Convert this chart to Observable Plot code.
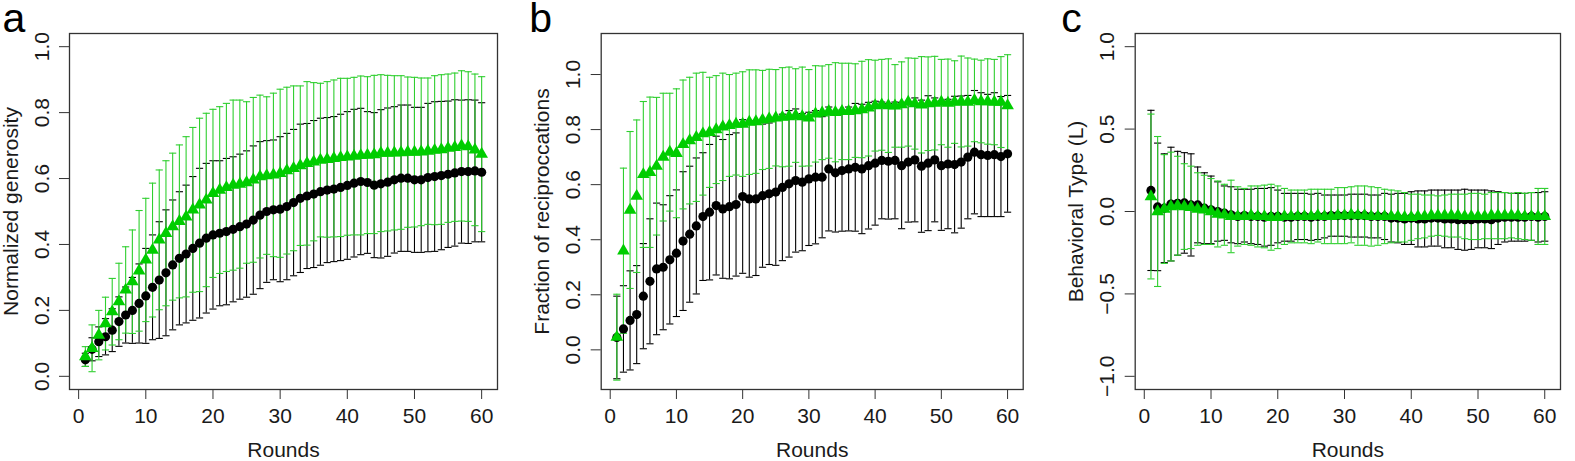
<!DOCTYPE html>
<html><head><meta charset="utf-8">
<script src="https://cdn.jsdelivr.net/npm/d3@7"></script>
<script src="https://cdn.jsdelivr.net/npm/@observablehq/plot@0.6"></script>
<style>
html,body{margin:0;padding:0;background:#fff;}
#wrap{position:relative;width:1575px;height:461px;overflow:hidden;background:#fff;}
#wrap > svg{position:absolute;top:0;}
</style></head><body><div id="wrap"></div>
<script>
const rounds = [1,2,3,4,5,6,7,8,9,10,11,12,13,14,15,16,17,18,19,20,21,22,23,24,25,26,27,28,29,30,
  31,32,33,34,35,36,37,38,39,40,41,42,43,44,45,46,47,48,49,50,51,52,53,54,55,56,57,58,59,60];
const xTicks = [0,10,20,30,40,50,60];

// Panel a: Normalized generosity (mean and half error bar)
const aBlackMean = [0.05,0.082,0.105,0.12,0.14,0.166,0.186,0.2,0.221,0.244,
 0.27,0.292,0.314,0.338,0.358,0.371,0.388,0.404,0.419,0.429,
 0.434,0.439,0.446,0.454,0.462,0.474,0.489,0.5,0.505,0.507,
 0.515,0.527,0.54,0.547,0.553,0.56,0.565,0.568,0.573,0.579,
 0.586,0.591,0.588,0.58,0.584,0.589,0.596,0.601,0.601,0.596,
 0.596,0.603,0.606,0.609,0.613,0.617,0.621,0.621,0.623,0.619];
const aBlackSd = [0.02,0.035,0.045,0.055,0.065,0.075,0.085,0.1,0.12,0.144,
 0.159,0.177,0.191,0.197,0.202,0.209,0.218,0.227,0.227,0.225,
 0.22,0.222,0.22,0.22,0.222,0.225,0.223,0.215,0.212,0.22,
 0.222,0.222,0.225,0.22,0.223,0.223,0.22,0.22,0.222,0.224,
 0.224,0.222,0.215,0.22,0.225,0.225,0.222,0.222,0.222,0.22,
 0.22,0.225,0.227,0.225,0.222,0.222,0.217,0.218,0.215,0.211];
const aGreenMean = [0.06,0.085,0.125,0.16,0.196,0.227,0.262,0.287,0.32,0.353,
 0.383,0.414,0.434,0.454,0.47,0.484,0.505,0.52,0.535,0.555,
 0.565,0.573,0.58,0.583,0.588,0.596,0.606,0.609,0.611,0.616,
 0.624,0.631,0.639,0.646,0.651,0.656,0.658,0.661,0.664,0.666,
 0.668,0.67,0.671,0.673,0.677,0.677,0.678,0.679,0.68,0.68,
 0.681,0.683,0.686,0.688,0.692,0.695,0.699,0.697,0.687,0.674];
const aGreenSd = [0.03,0.071,0.075,0.08,0.101,0.116,0.131,0.157,0.183,0.187,
 0.203,0.212,0.22,0.223,0.232,0.243,0.25,0.263,0.263,0.255,
 0.253,0.255,0.258,0.255,0.245,0.25,0.247,0.239,0.248,0.255,
 0.253,0.25,0.242,0.248,0.24,0.233,0.236,0.238,0.24,0.238,
 0.239,0.241,0.238,0.24,0.238,0.236,0.234,0.233,0.228,0.227,
 0.224,0.222,0.226,0.227,0.225,0.225,0.228,0.227,0.23,0.235];
const aYTicks = [0,0.2,0.4,0.6,0.8,1.0];

// Panel b: Fraction of reciprocations
const bBlackMean = [0.045,0.076,0.107,0.128,0.195,0.249,0.294,0.3,0.327,0.351,
 0.395,0.42,0.45,0.484,0.5,0.524,0.512,0.52,0.528,0.557,
 0.548,0.548,0.56,0.567,0.573,0.59,0.603,0.615,0.609,0.621,
 0.627,0.627,0.657,0.643,0.651,0.657,0.663,0.657,0.669,0.678,
 0.688,0.685,0.688,0.669,0.682,0.69,0.667,0.678,0.69,0.669,
 0.675,0.673,0.682,0.7,0.718,0.709,0.706,0.709,0.702,0.712];
const bBlackSd = [0.15,0.157,0.18,0.178,0.191,0.227,0.239,0.227,0.233,0.23,
 0.252,0.247,0.247,0.232,0.246,0.252,0.252,0.262,0.26,0.279,
 0.284,0.278,0.26,0.257,0.266,0.266,0.266,0.26,0.249,0.242,
 0.242,0.22,0.225,0.215,0.22,0.225,0.232,0.235,0.23,0.225,
 0.212,0.21,0.212,0.229,0.218,0.225,0.24,0.245,0.225,0.235,
 0.235,0.248,0.24,0.224,0.224,0.225,0.222,0.225,0.218,0.212];
const bGreenMean = [0.046,0.36,0.508,0.558,0.637,0.645,0.667,0.7,0.718,0.714,
 0.746,0.76,0.772,0.785,0.79,0.8,0.81,0.815,0.82,0.82,
 0.827,0.829,0.835,0.839,0.843,0.845,0.847,0.851,0.847,0.843,
 0.857,0.861,0.866,0.863,0.866,0.866,0.869,0.873,0.879,0.887,
 0.89,0.887,0.886,0.891,0.9,0.894,0.89,0.894,0.896,0.9,
 0.896,0.9,0.902,0.9,0.906,0.902,0.902,0.9,0.9,0.887];
const bGreenSd = [0.156,0.3,0.285,0.277,0.265,0.273,0.25,0.232,0.214,0.234,
 0.234,0.23,0.233,0.223,0.2,0.196,0.195,0.185,0.185,0.19,
 0.19,0.188,0.18,0.18,0.175,0.18,0.18,0.17,0.18,0.175,
 0.175,0.17,0.17,0.18,0.175,0.175,0.17,0.175,0.175,0.165,
 0.165,0.17,0.15,0.155,0.16,0.165,0.175,0.17,0.17,0.155,
 0.16,0.15,0.165,0.16,0.15,0.15,0.155,0.155,0.165,0.185];
const bYTicks = [0,0.2,0.4,0.6,0.8,1.0];

// Panel c: Behavioral Type (L)
const cBlackMean = [0.128,0.028,0.02,0.045,0.05,0.052,0.04,0.04,0.02,0.01,
 0.0,-0.01,-0.02,-0.03,-0.025,-0.03,-0.03,-0.035,-0.03,-0.03,
 -0.035,-0.035,-0.03,-0.03,-0.035,-0.03,-0.03,-0.025,-0.025,-0.025,
 -0.025,-0.025,-0.025,-0.03,-0.03,-0.03,-0.04,-0.04,-0.045,-0.04,
 -0.045,-0.045,-0.04,-0.04,-0.045,-0.045,-0.05,-0.05,-0.05,-0.045,
 -0.045,-0.05,-0.04,-0.035,-0.035,-0.035,-0.035,-0.03,-0.035,-0.03];
const cBlackSd = [0.486,0.387,0.33,0.345,0.315,0.305,0.31,0.23,0.215,0.205,
 0.18,0.165,0.17,0.165,0.16,0.165,0.17,0.175,0.175,0.16,
 0.145,0.145,0.14,0.14,0.14,0.14,0.13,0.125,0.125,0.125,
 0.13,0.13,0.13,0.13,0.13,0.14,0.145,0.15,0.155,0.16,
 0.17,0.17,0.17,0.17,0.175,0.175,0.18,0.185,0.18,0.175,
 0.175,0.175,0.16,0.15,0.145,0.145,0.145,0.145,0.15,0.15];
const cGreenMean = [0.091,0.0,0.015,0.03,0.035,0.03,0.025,0.015,0.01,0.0,
 -0.015,-0.02,-0.03,-0.03,-0.03,-0.025,-0.03,-0.03,-0.035,-0.035,
 -0.03,-0.03,-0.03,-0.03,-0.03,-0.025,-0.03,-0.03,-0.025,-0.025,
 -0.02,-0.025,-0.025,-0.03,-0.03,-0.03,-0.03,-0.03,-0.035,-0.035,
 -0.03,-0.03,-0.025,-0.025,-0.025,-0.025,-0.025,-0.03,-0.03,-0.03,
 -0.03,-0.025,-0.025,-0.025,-0.025,-0.025,-0.03,-0.03,-0.03,-0.03];
const cGreenSd = [0.5,0.455,0.33,0.33,0.3,0.26,0.25,0.22,0.21,0.2,
 0.2,0.185,0.22,0.18,0.17,0.18,0.185,0.19,0.2,0.19,
 0.17,0.16,0.16,0.16,0.165,0.16,0.165,0.165,0.17,0.17,
 0.17,0.18,0.18,0.18,0.175,0.165,0.16,0.155,0.15,0.14,
 0.135,0.13,0.125,0.12,0.125,0.13,0.13,0.135,0.14,0.14,
 0.135,0.14,0.14,0.14,0.135,0.14,0.14,0.145,0.17,0.17];
const cYTicks = [-1.0,-0.5,0,0.5,1.0];

const BLACK = "#000000", GREEN = "#00cd00", BARGREEN = "#2fcf2f", TEXT = "#1a1a1a";
const FONT = "'Liberation Sans', Arial, Helvetica, sans-serif";
const cap = {draw(ctx, size) { const w = Math.sqrt(size / Math.PI); ctx.moveTo(-w, 0); ctx.lineTo(w, 0); }};
const rows = (mean, sd) => rounds.map((r, i) => ({r, m: mean[i], lo: mean[i] - sd[i], hi: mean[i] + sd[i]}));
const fmt = d => d3.format(".1f")(d).replace("-", "\u2212");
const wrap = document.getElementById("wrap");

function panel({left, width, marginLeft, marginRight, yDomain, yTicks, yLabel, letter, letterDx, black, green}) {
  const plot = Plot.plot({
    width, height: 461, marginLeft, marginRight, marginTop: 33, marginBottom: 72,
    x: {domain: [-1.36, 62.36]},
    y: {domain: yDomain},
    style: {fontFamily: FONT, fontSize: "21px", color: TEXT, background: "transparent", overflow: "visible"},
    marks: [
      Plot.ruleX(black, {x: "r", y1: "lo", y2: "hi", stroke: BLACK, strokeWidth: 1.1}),
      Plot.dot(black, {x: "r", y: "lo", symbol: cap, r: 3.6, stroke: BLACK, fill: "none", strokeWidth: 1.1}),
      Plot.dot(black, {x: "r", y: "hi", symbol: cap, r: 3.6, stroke: BLACK, fill: "none", strokeWidth: 1.1}),
      Plot.ruleX(green, {x: "r", y1: "lo", y2: "hi", stroke: BARGREEN, strokeWidth: 1.1}),
      Plot.dot(green, {x: "r", y: "lo", symbol: cap, r: 3.6, stroke: BARGREEN, fill: "none", strokeWidth: 1.1}),
      Plot.dot(green, {x: "r", y: "hi", symbol: cap, r: 3.6, stroke: BARGREEN, fill: "none", strokeWidth: 1.1}),
      Plot.dot(black, {x: "r", y: "m", r: 4.6, fill: BLACK, stroke: "none"}),
      Plot.dot(green, {x: "r", y: "m", symbol: "triangle", r: 4.7, fill: GREEN, stroke: "none"}),
      Plot.frame({stroke: "#333", strokeWidth: 1.3}),
      Plot.axisX({ticks: xTicks, tickSize: 10, tickPadding: 9, tickFormat: d => String(d), label: null, fontSize: 21, stroke: "#333"}),
      Plot.axisY({ticks: yTicks, tickSize: 10, tickFormat: () => "", label: null, stroke: "#333"}),
      Plot.text(yTicks, {y: d => d, text: fmt, frameAnchor: "left", dx: -27.5, rotate: -90, textAnchor: "middle", lineAnchor: "middle", fontSize: 21, fill: TEXT}),
      Plot.text([yLabel], {frameAnchor: "left", dx: -52, rotate: -90, textAnchor: "middle", lineAnchor: "bottom", fontSize: 21, fill: TEXT}),
      Plot.text(["Rounds"], {frameAnchor: "bottom", dy: 67, lineAnchor: "bottom", fontSize: 21, fill: TEXT}),
      Plot.text([letter], {frameAnchor: "top-left", dx: letterDx, dy: -2, textAnchor: "start", lineAnchor: "bottom", fontSize: 41, fill: "#000"})
    ]
  });
  plot.style.left = left + "px";
  wrap.appendChild(plot);
}

panel({left: 0, width: 520, marginLeft: 69, marginRight: 23, yDomain: [-0.04, 1.04], yTicks: aYTicks,
  yLabel: "Normalized generosity", letter: "a", letterDx: -67,
  black: rows(aBlackMean, aBlackSd), green: rows(aGreenMean, aGreenSd)});
panel({left: 520, width: 530, marginLeft: 80.7, marginRight: 27.3, yDomain: [-0.144, 1.149], yTicks: bYTicks,
  yLabel: "Fraction of reciproccations", letter: "b", letterDx: -72,
  black: rows(bBlackMean, bBlackSd), green: rows(bGreenMean, bGreenSd)});
panel({left: 1050, width: 525, marginLeft: 84.7, marginRight: 15, yDomain: [-1.08, 1.08], yTicks: cYTicks,
  yLabel: "Behavioral Type (L)", letter: "c", letterDx: -74,
  black: rows(cBlackMean, cBlackSd), green: rows(cGreenMean, cGreenSd)});
</script></body></html>
